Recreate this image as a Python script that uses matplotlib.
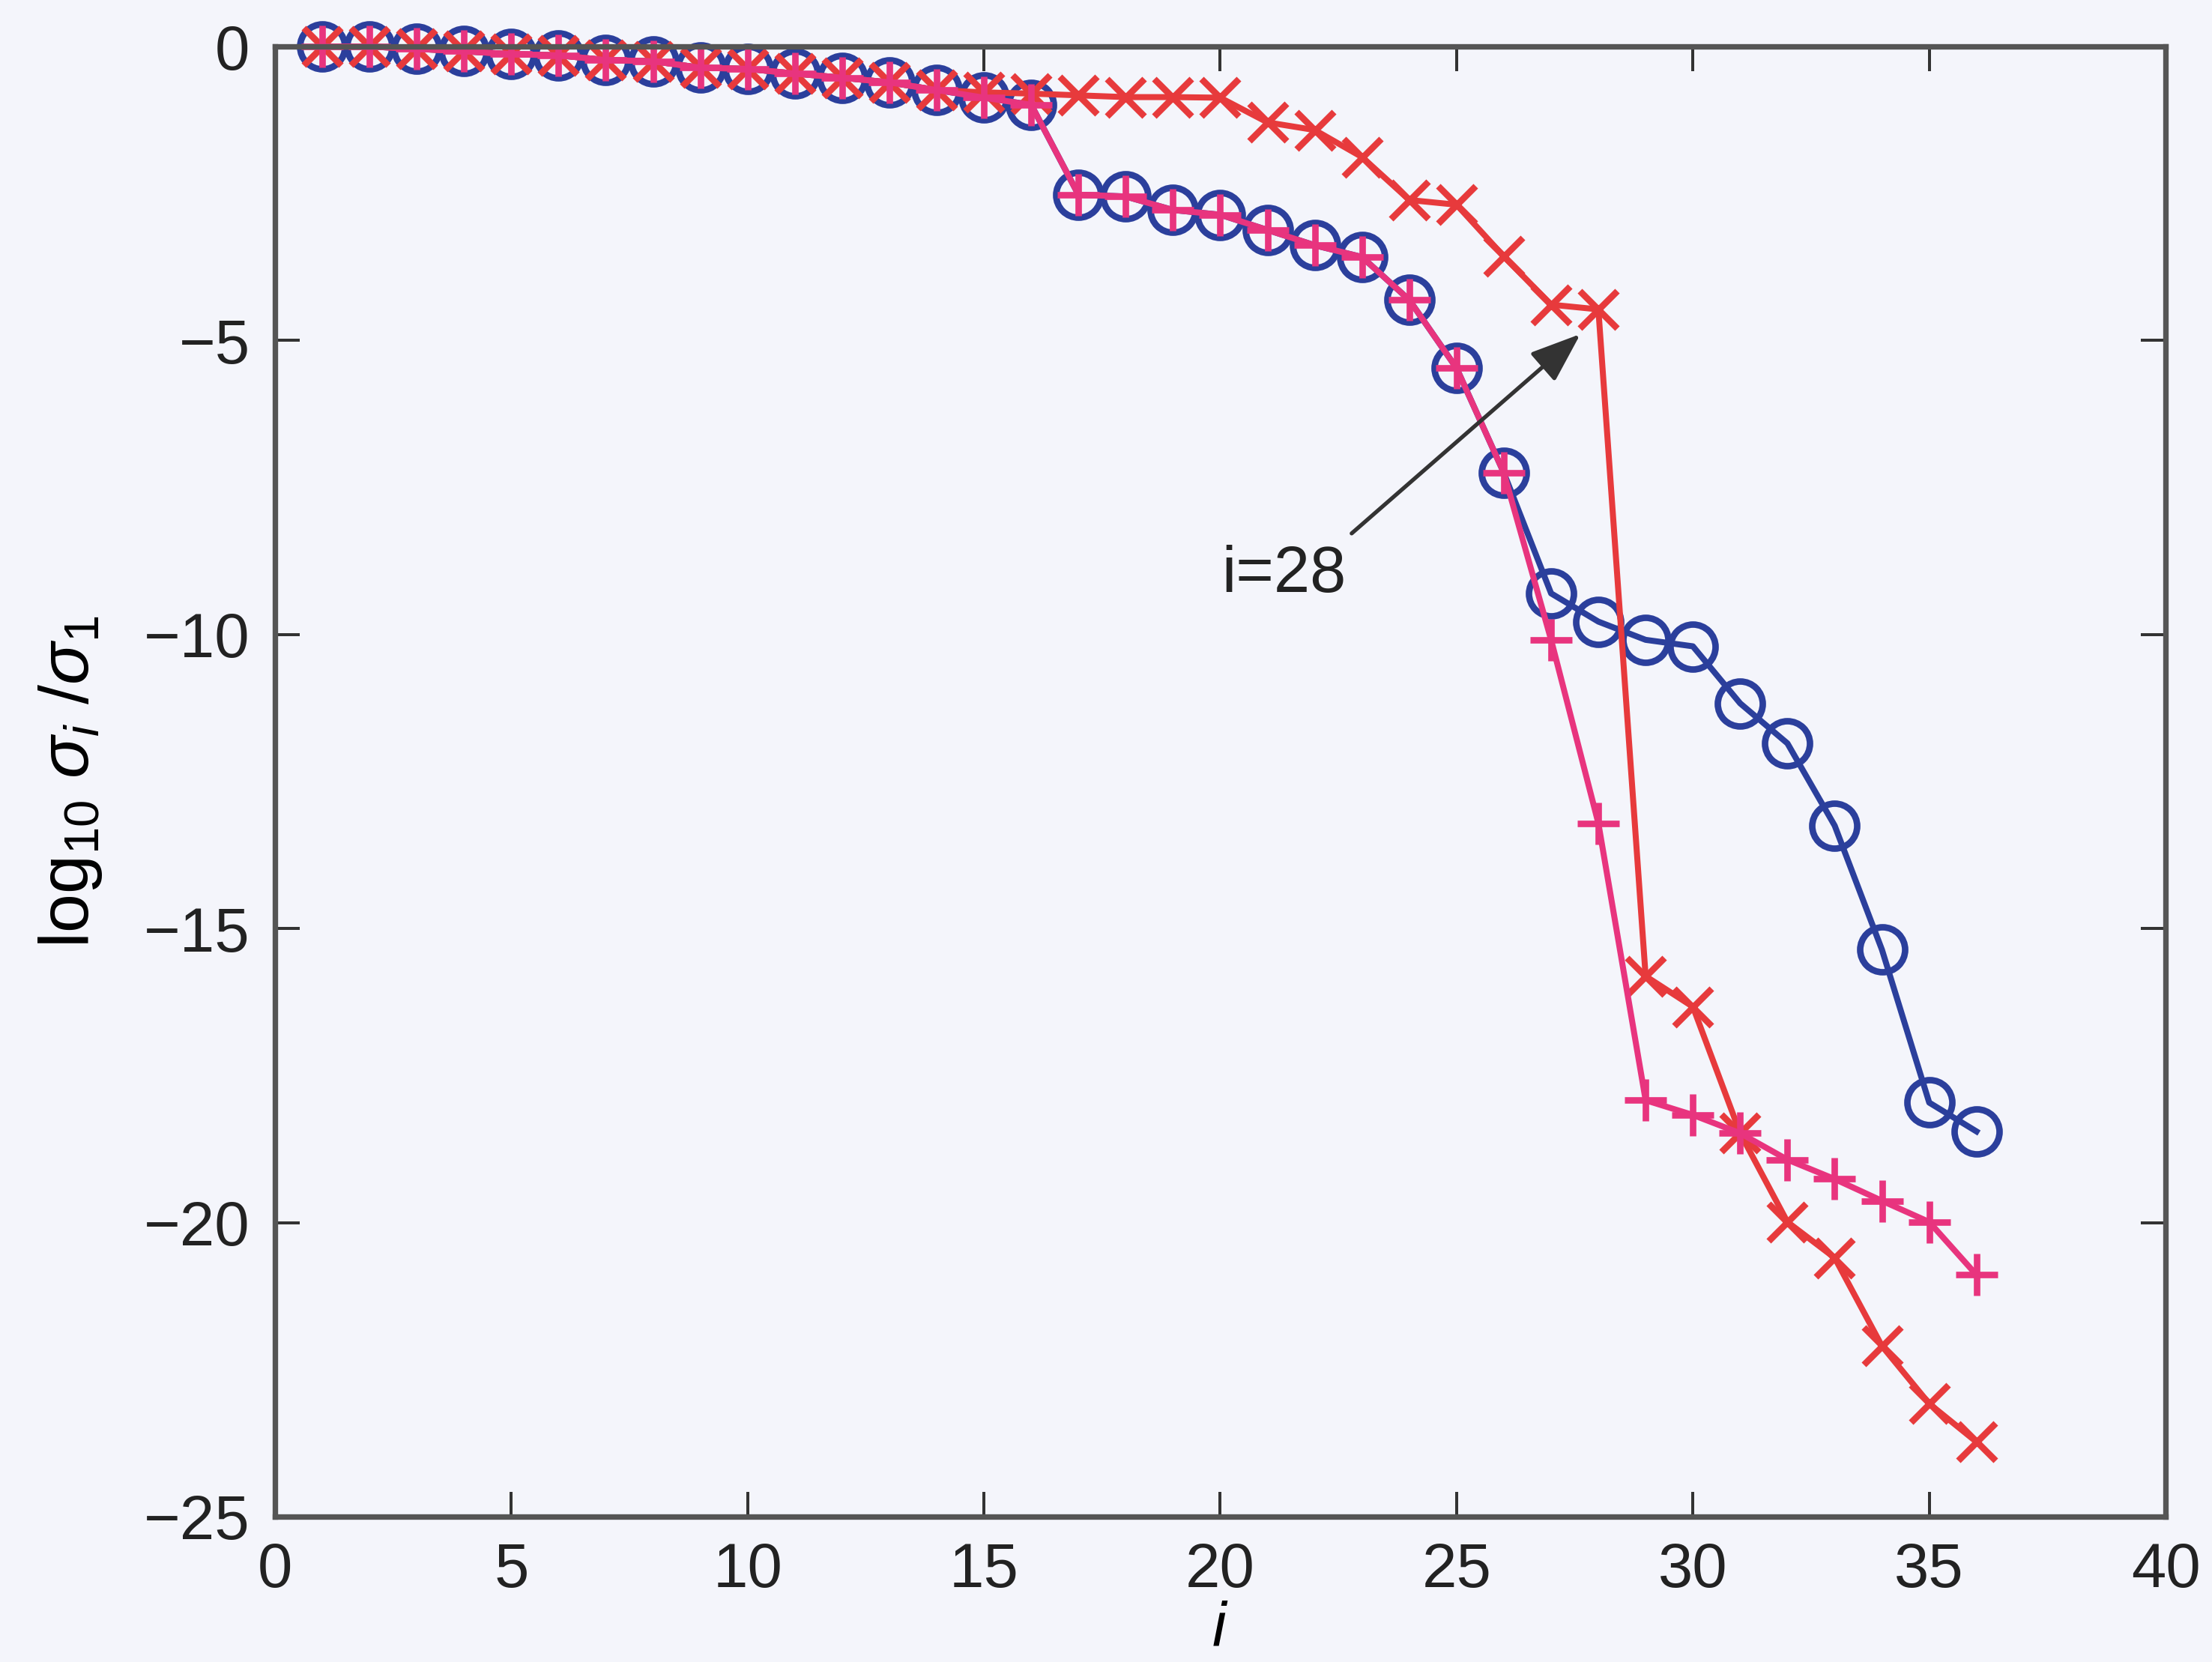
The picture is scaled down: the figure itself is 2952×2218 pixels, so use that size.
import matplotlib

matplotlib.use('Agg')

import matplotlib.pyplot as plt
import numpy as np

plt.rcParams['font.family'] = ['Liberation Sans', 'DejaVu Sans']
plt.rcParams['mathtext.fontset'] = 'custom'
plt.rcParams['mathtext.rm'] = 'Liberation Sans'
plt.rcParams['mathtext.it'] = 'Liberation Sans:italic'

idx = np.arange(1, 37)

# normalised singular values, log10(sigma_i / sigma_1)
head = [0.0, 0.0, -0.04, -0.08, -0.13, -0.15, -0.23, -0.25, -0.36, -0.38,
        -0.46, -0.53, -0.61, -0.74]
sv_circle = head + [-0.87, -0.99, -2.52, -2.55, -2.78, -2.86, -3.12, -3.38,
                    -3.58, -4.31, -5.47, -7.25, -9.30, -9.78, -10.09, -10.20,
                    -11.17, -11.85, -13.25, -15.36, -17.96, -18.45]
sv_plus = sv_circle[:26] + [-10.09, -13.21, -17.92, -18.17, -18.48, -18.93,
                            -19.26, -19.63, -19.99, -20.89]
sv_cross = head + [-0.78, -0.80, -0.83, -0.86, -0.86, -0.87, -1.29, -1.42,
                   -1.88, -2.61, -2.69, -3.57, -4.39, -4.47, -15.81, -16.33,
                   -18.48, -19.99, -20.60, -22.10, -23.08, -23.73]

bg = '#f4f5fb'
fig = plt.figure(figsize=(12.3, 9.2417), dpi=240, facecolor=bg)
ax = fig.add_axes([0.1243, 0.0875, 0.8547, 0.8845], facecolor=bg)

ax.plot(idx, sv_circle, '-o', color='#2b3f9c', lw=2.4, ms=18,
        mfc='none', mew=2.6, clip_on=False)
ax.plot(idx, sv_cross, '-x', color='#e73a3c', lw=2.4, ms=15, mew=2.6,
        clip_on=False)
ax.plot(idx, sv_plus, '-+', color='#e8347e', lw=2.4, ms=17, mew=2.6,
        clip_on=False)

# label and arrow pointing at i=28
ax.text(21.34, -8.99, 'i=28', fontsize=26, ha='center', va='center',
        color='#222222')
ax.annotate('', xy=(27.62, -4.89), xytext=(22.78, -8.28),
            arrowprops=dict(arrowstyle='-|>,head_length=0.4,head_width=0.15',
                            color='#333333', lw=1.6, mutation_scale=43,
                            shrinkA=0, shrinkB=0))

ax.set_xlim(0, 40)
ax.set_ylim(-25, 0)
ax.set_xticks(np.arange(0, 41, 5))
ax.set_yticks(np.arange(-25, 1, 5))
ax.tick_params(direction='in', top=True, right=True, length=10, width=1.2,
               labelsize=25, pad=10, colors='#333333', labelcolor='#222222')
for s in ax.spines.values():
    s.set_linewidth(2.2)
    s.set_color('#555555')

ax.set_xlabel('$i$', fontsize=25)
ax.xaxis.set_label_coords(0.5, -0.057)
ax.set_ylabel(r'log$_{10}$ $\sigma_i$ $/\sigma_1$', fontsize=28, labelpad=16)

fig.savefig('out.png', dpi=240, facecolor=bg)
